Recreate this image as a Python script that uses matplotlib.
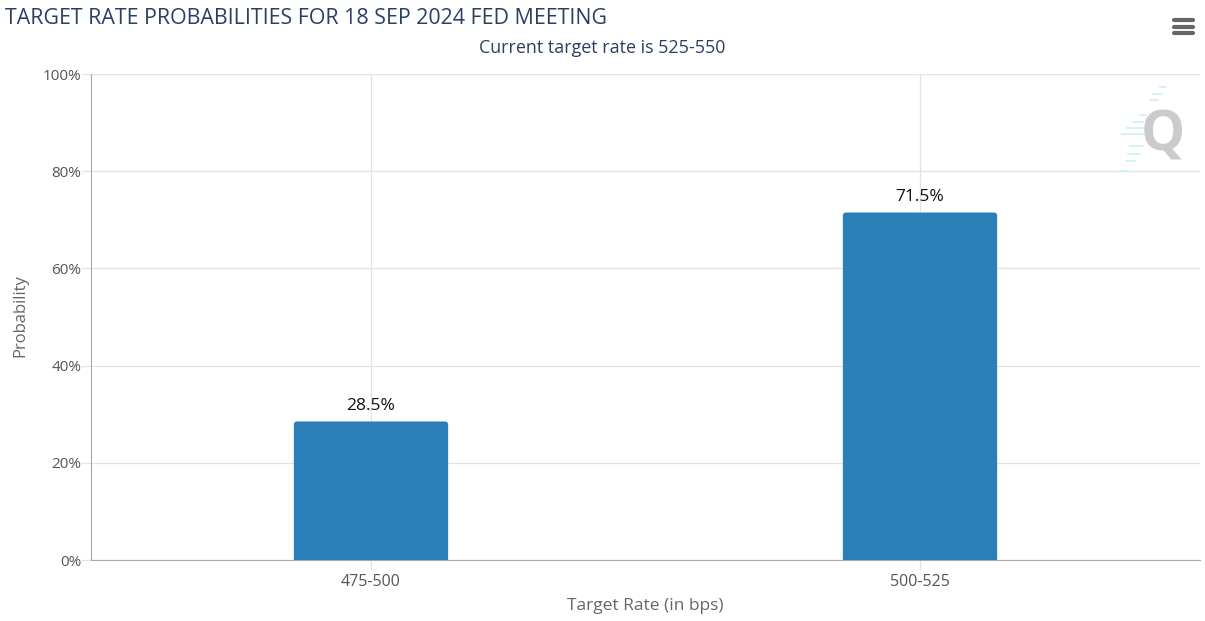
import matplotlib
matplotlib.use("Agg")
import matplotlib.pyplot as plt
from matplotlib.patches import FancyBboxPatch
from matplotlib.lines import Line2D

plt.rcParams['font.family'] = ['Open Sans', 'DejaVu Sans']

# data
categories = ["475-500", "500-525"]
probabilities = [28.5, 71.5]
y_ticks = [0, 20, 40, 60, 80, 100]

W, H = 1205, 621
BAR_COLOR = "#2a7fb8"
GRID_COLOR = "#e3e3e6"
NAVY = "#2d3e63"

fig = plt.figure(figsize=(W / 100, H / 100), dpi=100)
ax = fig.add_axes([91 / W, 1 - 560 / H, (1200 - 91) / W, (560 - 74) / H])

x_pos = list(range(len(categories)))
ax.set_xlim(-0.51, 1.51)
ax.set_ylim(0, 100)

# bars, only the top corners stay rounded (bottom is clipped by the axes)
bar_w = 0.281
for x, v in zip(x_pos, probabilities):
    p = FancyBboxPatch((x - bar_w / 2, -2), bar_w, v + 2,
                       boxstyle="round,pad=0,rounding_size=0.006",
                       mutation_aspect=113, fc=BAR_COLOR, ec="none", zorder=3)
    ax.add_patch(p)
    ax.text(x, v + 1.5, f"{v}%", ha="center", va="bottom", fontsize=12.5,
            color="#111111", zorder=4)

# axes and grid
ax.set_xticks(x_pos)
ax.set_xticklabels(categories)
ax.set_yticks(y_ticks)
ax.set_yticklabels([f"{t}%" for t in y_ticks])
ax.grid(True, color=GRID_COLOR, lw=0.9)
ax.set_axisbelow(True)
ax.tick_params(axis="x", length=7, width=0.9, color=GRID_COLOR, labelsize=11.5,
               labelcolor="#555555", pad=3)
ax.tick_params(axis="y", length=7, width=0.9, color=GRID_COLOR, labelsize=11,
               labelcolor="#555555", pad=0)
for s in ["top", "right"]:
    ax.spines[s].set_visible(False)
ax.spines["left"].set_color("#a8a8a8")
ax.spines["bottom"].set_color("#a8a8a8")

ax.set_xlabel("Target Rate (in bps)", fontsize=12.5, color="#666666", labelpad=6)
fig.text(20 / W, 1 - 316 / H, "Probability", rotation=90, fontsize=12,
         color="#666666", ha="center", va="center")

# titles
fig.text(5 / W, 1 - 18 / H, "TARGET RATE PROBABILITIES FOR 18 SEP 2024 FED MEETING",
         fontsize=15.4, color=NAVY, ha="left", va="center")
fig.text(602 / W, 1 - 48 / H, "Current target rate is 525-550", fontsize=12.9,
         color=NAVY, ha="center", va="center")

# menu icon
for py in [20, 27, 33]:
    fig.add_artist(Line2D([1174 / W, 1193 / W], [1 - py / H] * 2, lw=3,
                          color="#666666", solid_capstyle="round"))

# watermark
fig.text(1163 / W, 1 - 136 / H, "Q", fontsize=40, fontweight="bold",
         color="#cbcbcb", ha="center", va="center")
dashes = [(1160, 1166, 87), (1153, 1162, 94), (1150, 1158, 100), (1140, 1146, 115),
          (1133, 1143, 122), (1127, 1143, 128), (1121, 1143, 134), (1130, 1143, 146),
          (1128, 1140, 154), (1126, 1135, 161), (1121, 1127, 171)]
for x0, x1, py in dashes:
    fig.add_artist(Line2D([x0 / W, x1 / W], [1 - py / H] * 2, lw=1.2,
                          color="#cdeff5"))

fig.savefig("out.png", dpi=100)
